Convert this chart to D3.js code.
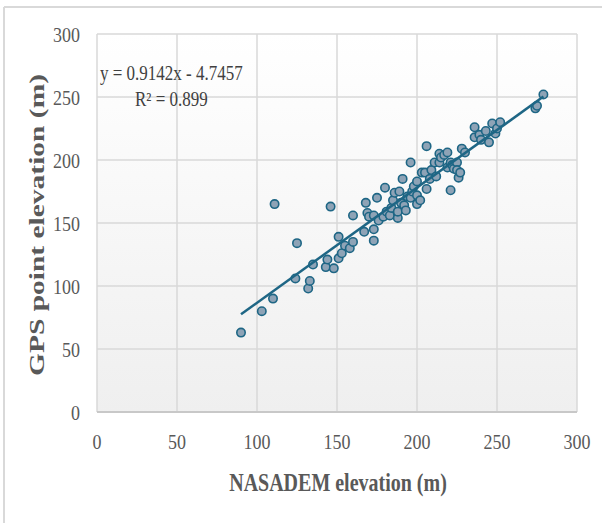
<!DOCTYPE html>
<html>
<head>
<meta charset="utf-8">
<script src="https://cdn.jsdelivr.net/npm/d3@7"></script>
<style>
  body { margin: 0; background: #fff; }
  text { font-family: "Liberation Serif", "Times New Roman", serif; }
</style>
</head>
<body>
<svg id="chart" width="602" height="523"></svg>
<script>
// NASADEM vs GPS point elevations (m)
var nasadem = [90, 103, 110, 111, 124, 125, 132, 133, 135, 143, 144, 146, 148, 151, 151, 153, 155, 158,
               160, 160, 167, 168, 169, 170, 173, 173, 173, 175, 176, 179, 180, 181, 183, 184, 185, 186,
               188, 188, 189, 190, 191, 192, 193, 194, 196, 196, 197, 198, 200, 200, 200, 202, 203, 205,
               206, 206, 208, 209, 211, 212, 214, 214, 215, 217, 219, 219, 221, 221, 222, 223, 225, 225,
               226, 227, 228, 230, 236, 236, 239, 240, 243, 245, 247, 249, 250, 252, 274, 275, 279];
var gps     = [63, 80, 90, 165, 106, 134, 98, 104, 117, 115, 121, 163, 114, 139, 122, 126, 132, 130,
               156, 135, 143, 166, 158, 155, 136, 145, 156, 170, 152, 155, 178, 159, 156, 162, 168, 174,
               154, 159, 175, 166, 185, 164, 160, 171, 198, 170, 175, 179, 165, 172, 183, 168, 190, 190,
               211, 177, 185, 192, 198, 187, 205, 198, 202, 204, 206, 194, 176, 198, 196, 193, 198, 192,
               186, 190, 209, 206, 218, 226, 220, 216, 223, 214, 229, 221, 225, 230, 241, 243, 252];

var xTicks = [0, 50, 100, 150, 200, 250, 300];
var yTicks = [0, 50, 100, 150, 200, 250, 300];

var slope = 0.9142, intercept = -4.7457, r2 = 0.899;

var svg = d3.select("#chart");

// plot area
var margin = {top: 34, right: 25, bottom: 111, left: 97},
    width = 602 - margin.left - margin.right,
    height = 523 - margin.top - margin.bottom;

var x = d3.scaleLinear().domain([0, 300]).range([0, width]);
var y = d3.scaleLinear().domain([0, 300]).range([height, 0]);

// outer frame (only top + left edges show in the crop)
svg.append("line").attr("x1", 4).attr("x2", 602).attr("y1", 7).attr("y2", 7)
    .attr("stroke", "#d9d9d9").attr("stroke-width", 2);
svg.append("line").attr("x1", 4).attr("x2", 4).attr("y1", 7).attr("y2", 523)
    .attr("stroke", "#d9d9d9").attr("stroke-width", 2);

var grad = svg.append("defs").append("linearGradient")
    .attr("id", "bg").attr("x1", 0).attr("x2", 0).attr("y1", 0).attr("y2", 1);
grad.append("stop").attr("offset", "0%").attr("stop-color", "#ffffff");
grad.append("stop").attr("offset", "100%").attr("stop-color", "#efefef");

var g = svg.append("g").attr("transform", "translate(" + margin.left + "," + margin.top + ")");

g.append("rect").attr("width", width).attr("height", height).attr("fill", "url(#bg)");

// gridlines
g.selectAll(".vgrid").data(xTicks).enter().append("line")
    .attr("x1", function(d) { return x(d); }).attr("x2", function(d) { return x(d); })
    .attr("y1", 0).attr("y2", height)
    .attr("stroke", "#d9d9d9").attr("stroke-width", 1.5);
g.selectAll(".hgrid").data(yTicks).enter().append("line")
    .attr("x1", 0).attr("x2", width)
    .attr("y1", function(d) { return y(d); }).attr("y2", function(d) { return y(d); })
    .attr("stroke", function(d) { return d == 0 ? "#c8c8c8" : "#d9d9d9"; })
    .attr("stroke-width", function(d) { return d == 0 ? 2 : 1.5; });

// tick labels (source text is slightly stretched vertically)
g.selectAll(".xt").data(xTicks).enter().append("text")
    .attr("transform", function(d) { return "translate(" + x(d) + "," + (height + 29) + ") scale(1,1.22)"; })
    .attr("dy", "0.35em")
    .attr("text-anchor", "middle")
    .style("font-size", "18px").style("fill", "#595959")
    .text(function(d) { return d; });
g.selectAll(".yt").data(yTicks).enter().append("text")
    .attr("transform", function(d) { return "translate(-17," + y(d) + ") scale(1,1.22)"; })
    .attr("dy", "0.35em")
    .attr("text-anchor", "end")
    .style("font-size", "18px").style("fill", "#595959")
    .text(function(d) { return d; });

// axis titles
svg.append("text")
    .attr("transform", "translate(338,482) scale(1,1.25)")
    .attr("dy", "0.35em")
    .attr("text-anchor", "middle")
    .style("font-size", "20px").style("font-weight", "bold").style("fill", "#595959")
    .text("NASADEM elevation (m)");
svg.append("text")
    .attr("transform", "translate(44,225) rotate(-90)")
    .attr("text-anchor", "middle")
    .attr("textLength", 302).attr("lengthAdjust", "spacingAndGlyphs")
    .style("font-size", "21px").style("font-weight", "bold").style("fill", "#595959")
    .text("GPS point elevation (m)");

// points
var pts = nasadem.map(function(d, i) { return {x: d, y: gps[i]}; });
g.append("g").selectAll("circle").data(pts).enter().append("circle")
    .attr("cx", function(d) { return x(d.x); })
    .attr("cy", function(d) { return y(d.y); })
    .attr("r", 4.2)
    .attr("fill", "#8ea3b6")
    .attr("stroke", "#1e6685")
    .attr("stroke-width", 1.6);

// linear trendline over data range
var ext = d3.extent(nasadem);
g.append("line")
    .attr("x1", x(ext[0])).attr("y1", y(slope * ext[0] + intercept))
    .attr("x2", x(ext[1])).attr("y2", y(slope * ext[1] + intercept))
    .attr("stroke", "#1e6685").attr("stroke-width", 2.5);

// equation
svg.append("text")
    .attr("transform", "translate(100,73) scale(1,1.2)")
    .attr("dy", "0.35em")
    .style("font-size", "17px").style("fill", "#404040")
    .text("y = " + slope + "x - " + Math.abs(intercept));
svg.append("text")
    .attr("transform", "translate(135,99) scale(1,1.2)")
    .attr("dy", "0.35em")
    .style("font-size", "17px").style("fill", "#404040")
    .text("R² = " + r2);
</script>
</body>
</html>
